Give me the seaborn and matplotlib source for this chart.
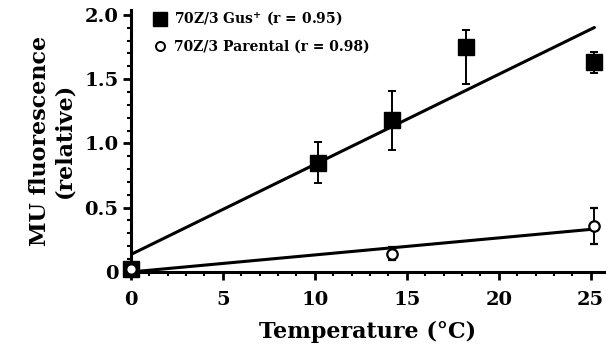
import numpy as np
import seaborn as sns
import matplotlib.pyplot as plt
from matplotlib.lines import Line2D
from matplotlib.ticker import MultipleLocator

# values
gus_temp = [0, 10.2, 14.2, 18.2, 25.2]
gus_mu = [0.02, 0.85, 1.18, 1.75, 1.63]
gus_err_lo = [0.0, 0.16, 0.23, 0.29, 0.08]
gus_err_hi = [0.0, 0.16, 0.23, 0.13, 0.08]

par_temp = [0, 14.2, 25.2]
par_mu = [0.02, 0.14, 0.36]
par_err = [0.0, 0.05, 0.14]

gus_label = r'70Z/3 Gus$^{\mathbf{+}}$ (r = 0.95)'
par_label = '70Z/3 Parental (r = 0.98)'

sns.set_style('ticks')
plt.rcParams['font.family'] = ['DejaVu Serif']
plt.rcParams['font.weight'] = 'bold'
plt.rcParams['mathtext.fontset'] = 'dejavuserif'
for k in ['text.color', 'axes.labelcolor', 'xtick.color', 'ytick.color', 'axes.edgecolor']:
    plt.rcParams[k] = 'black'

fig = plt.figure(figsize=(6.06, 3.62), dpi=100)
ax = fig.add_axes([0.216, 0.249, 0.78, 0.724])

# fitted lines
sns.regplot(x=gus_temp, y=gus_mu, scatter=False, ci=None, truncate=True,
            color='black', line_kws={'lw': 2.2}, ax=ax)
sns.regplot(x=par_temp, y=par_mu, scatter=False, ci=None, truncate=True,
            color='black', line_kws={'lw': 2.2}, ax=ax)

ax.errorbar(gus_temp, gus_mu, yerr=[gus_err_lo, gus_err_hi], fmt='s', color='black',
            ms=11, elinewidth=1.4, capsize=3, capthick=1.4, clip_on=False, zorder=5)
ax.errorbar(par_temp, par_mu, yerr=par_err, fmt='o', mfc='white', mec='black', ecolor='black',
            ms=7.5, mew=1.6, elinewidth=1.4, capsize=3, capthick=1.4, clip_on=False, zorder=6)

ax.set_xlim(0, 25.7)
ax.set_ylim(0, 2.04)
ax.xaxis.set_major_locator(MultipleLocator(5))
ax.xaxis.set_minor_locator(MultipleLocator(1))
ax.yaxis.set_major_locator(MultipleLocator(0.5))
ax.yaxis.set_minor_locator(MultipleLocator(0.1))
ax.set_yticks([0, 0.5, 1.0, 1.5, 2.0], ['0', '0.5', '1.0', '1.5', '2.0'])
ax.tick_params(which='major', length=6, width=2, labelsize=14, direction='out', pad=3)
ax.tick_params(axis='x', which='major', pad=8)
ax.tick_params(which='minor', length=3, width=1.5, direction='out')
for lab in ax.get_xticklabels() + ax.get_yticklabels():
    lab.set_fontweight('bold')

sns.despine(ax=ax)
for s in ['left', 'bottom']:
    ax.spines[s].set_linewidth(2.2)

ax.set_xlabel('Temperature (°C)', fontsize=16, fontweight='bold', labelpad=8)
ax.set_ylabel('MU fluorescence\n(relative)', fontsize=16, fontweight='bold',
              linespacing=1.15, labelpad=6)

handles = [
    Line2D([], [], marker='s', ls='none', color='black', ms=10),
    Line2D([], [], marker='o', ls='none', mfc='white', mec='black', mew=1.4, ms=6.5),
]
ax.legend(handles, [gus_label, par_label], loc='upper left', bbox_to_anchor=(0.035, 1.02),
          frameon=False, prop={'size': 10, 'weight': 'bold'}, handletextpad=0.5,
          handlelength=1.0, labelspacing=0.8, borderaxespad=0)

fig.savefig('out.png', dpi=100)
